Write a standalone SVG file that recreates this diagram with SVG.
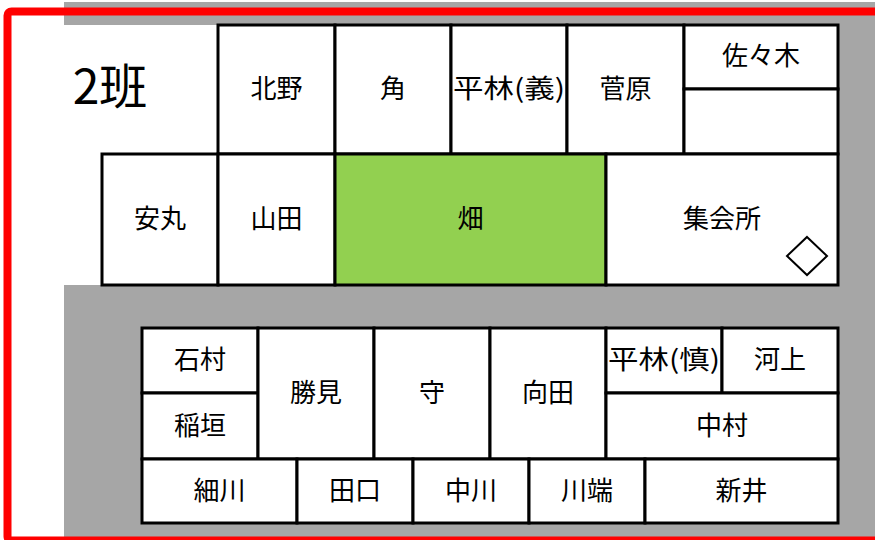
<svg xmlns="http://www.w3.org/2000/svg" width="875" height="540" viewBox="0 0 875 540">
<style>
.c{fill:#fff;stroke:#000;stroke-width:3}
.g{fill:#92d050;stroke:#000;stroke-width:3}
.t{font-family:"Noto Sans CJK JP","Noto Sans CJK SC",sans-serif;font-size:26px;fill:#000;text-anchor:middle;dominant-baseline:central}
</style>
<rect x="0" y="0" width="875" height="540" fill="#fff"/>
<rect x="64" y="2" width="811" height="536" fill="#a6a6a6"/>
<rect x="64" y="25" width="774" height="260" fill="#fff"/>
<rect x="7.5" y="11.5" width="880" height="529" rx="4" fill="none" stroke="#ff0000" stroke-width="8"/>
<text x="110" y="83" class="t" style="font-size:48px">2班</text>
<g id="kitano"><rect class="c" x="218" y="25" width="117" height="129"/><text class="t" x="276.5" y="86.5">北野</text></g>
<g id="sumi"><rect class="c" x="335" y="25" width="116" height="129"/><text class="t" x="393" y="86.5">角</text></g>
<g id="hirabayashi-yoshi"><rect class="c" x="451" y="25" width="116" height="129"/><text class="t" x="509" y="86.5" textLength="112" lengthAdjust="spacingAndGlyphs">平林(義)</text></g>
<g id="sugawara"><rect class="c" x="567" y="25" width="117" height="129"/><text class="t" x="625.5" y="86.5">菅原</text></g>
<g id="sasaki"><rect class="c" x="684" y="25" width="154" height="64"/><text class="t" x="761" y="53">佐々木</text></g>
<g id="empty1"><rect class="c" x="684" y="89" width="154" height="65"/></g>
<g id="yasumaru"><rect class="c" x="102" y="154" width="116" height="131"/><text class="t" x="160" y="216.5">安丸</text></g>
<g id="yamada"><rect class="c" x="218" y="154" width="117" height="131"/><text class="t" x="276.5" y="216.5">山田</text></g>
<g id="hatake"><rect class="g" x="335" y="154" width="271" height="131"/><text class="t" x="470.5" y="216.5">畑</text></g>
<g id="shukaijo"><rect class="c" x="606" y="154" width="232" height="131"/><text class="t" x="722" y="216.5">集会所</text><polygon points="807,237 827,256 807,275 787,256" fill="#fff" stroke="#000" stroke-width="2"/></g>
<g id="ishimura"><rect class="c" x="142" y="328" width="116" height="65"/><text class="t" x="200" y="357.5">石村</text></g>
<g id="inagaki"><rect class="c" x="142" y="393" width="116" height="66"/><text class="t" x="200" y="423">稲垣</text></g>
<g id="katsumi"><rect class="c" x="258" y="328" width="116" height="131"/><text class="t" x="316" y="390.5">勝見</text></g>
<g id="mori"><rect class="c" x="374" y="328" width="116" height="131"/><text class="t" x="432" y="390.5">守</text></g>
<g id="mukaida"><rect class="c" x="490" y="328" width="116" height="131"/><text class="t" x="548" y="390.5">向田</text></g>
<g id="hirabayashi-shin"><rect class="c" x="606" y="328" width="116" height="65"/><text class="t" x="664" y="357.5" textLength="112" lengthAdjust="spacingAndGlyphs">平林(慎)</text></g>
<g id="kawakami"><rect class="c" x="722" y="328" width="116" height="65"/><text class="t" x="780" y="357.5">河上</text></g>
<g id="nakamura"><rect class="c" x="606" y="393" width="232" height="66"/><text class="t" x="722" y="423">中村</text></g>
<g id="hosokawa"><rect class="c" x="142" y="459" width="155" height="64"/><text class="t" x="219.5" y="488">細川</text></g>
<g id="taguchi"><rect class="c" x="297" y="459" width="116" height="64"/><text class="t" x="355" y="488">田口</text></g>
<g id="nakagawa"><rect class="c" x="413" y="459" width="116" height="64"/><text class="t" x="471" y="488">中川</text></g>
<g id="kawabata"><rect class="c" x="529" y="459" width="116" height="64"/><text class="t" x="587" y="488">川端</text></g>
<g id="arai"><rect class="c" x="645" y="459" width="193" height="64"/><text class="t" x="741.5" y="488">新井</text></g>
<g id="connectors"></g>
</svg>
